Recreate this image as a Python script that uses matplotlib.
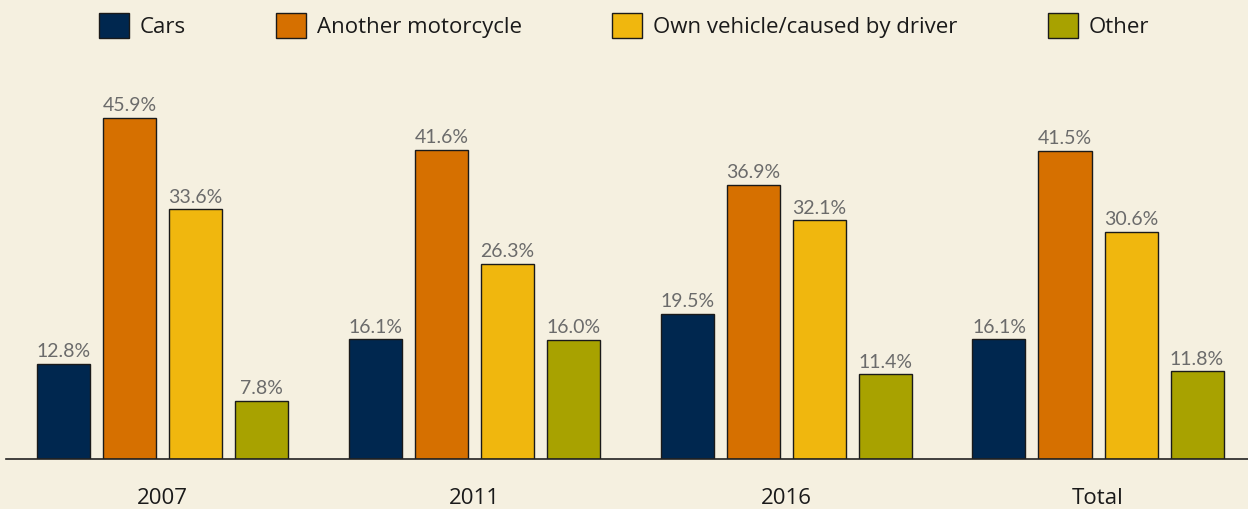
import numpy as np
import matplotlib.pyplot as plt

groups = ["2007", "2011", "2016", "Total"]
series = ["Cars", "Another motorcycle", "Own vehicle/caused by driver", "Other"]
cars = [12.8, 16.1, 19.5, 16.1]
another_moto = [45.9, 41.6, 36.9, 41.5]
own_vehicle = [33.6, 26.3, 32.1, 30.6]
other = [7.8, 16.0, 11.4, 11.8]
colors = ["#00274f", "#d67000", "#f0b70e", "#a8a200"]

bg = "#f5f0e0"
fig = plt.figure(figsize=(12.48, 5.09), dpi=100, facecolor=bg)
ax = fig.add_axes([6 / 1248, 0.0982, 1 - 6 / 1248, 0.73])
ax.set_facecolor(bg)

x = np.arange(len(groups))
step = 0.2117
width = 0.170
handles = []
for i, (name, vals) in enumerate(zip(series, [cars, another_moto, own_vehicle, other])):
    pos = x + (i - 1.5) * step
    b = ax.bar(pos, vals, width, color=colors[i], edgecolor="#1a1a1a", linewidth=1, label=name)
    handles.append(b)
    for px, v in zip(pos, vals):
        ax.text(px, v + 0.5, f"{v:.1f}%", ha="center", va="bottom",
                fontsize=14, color="#6b6b6b", family="Lato")

ax.set_xlim(-0.5019, 3.481)
ax.set_ylim(0, 50)
for s in ["top", "right", "left"]:
    ax.spines[s].set_visible(False)
ax.spines["bottom"].set_linewidth(1.2)
ax.spines["bottom"].set_color("#222222")
ax.set_yticks([])
ax.set_xticks(x)
ax.set_xticklabels(groups, fontsize=16, color="#1a1a1a", family="Open Sans")
ax.tick_params(axis="x", length=0, pad=21)

leg = fig.legend(handles=handles, loc="center", bbox_to_anchor=(0.5, 0.95), ncol=4,
                 frameon=False, handlelength=1.35, handleheight=1.35,
                 handletextpad=0.5, columnspacing=4.05,
                 prop={"family": "Open Sans", "size": 16})
for t in leg.get_texts():
    t.set_color("#1a1a1a")

fig.savefig("out.png", dpi=100, facecolor=bg)
